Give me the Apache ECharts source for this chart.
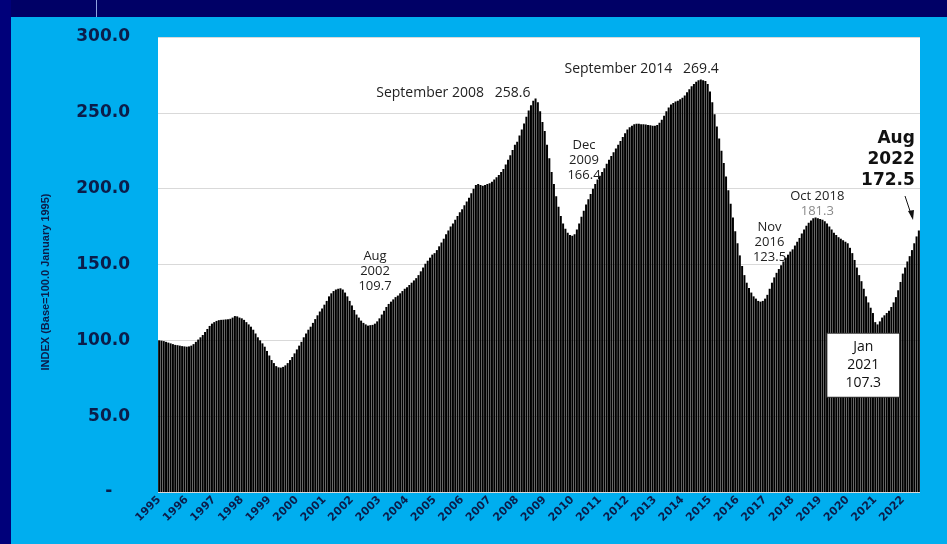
<!DOCTYPE html>
<html>
<head>
<meta charset="utf-8">
<script src="https://cdn.jsdelivr.net/npm/echarts@6/dist/echarts.min.js"></script>
<style>
  html, body { margin: 0; padding: 0; background: #00aeef; }
  #chart { width: 947px; height: 544px; }
</style>
</head>
<body>
<div id="chart"></div>
<script>
// monthly index, Jan 1995 .. Aug 2022 (base 100.0 = January 1995)
const years = [1995, 1996, 1997, 1998, 1999, 2000, 2001, 2002, 2003, 2004, 2005, 2006, 2007,
  2008, 2009, 2010, 2011, 2012, 2013, 2014, 2015, 2016, 2017, 2018, 2019, 2020, 2021, 2022];
const monthNames = ["Jan", "Feb", "Mar", "Apr", "May", "Jun", "Jul", "Aug", "Sep", "Oct", "Nov", "Dec"];

const indexValues = [
  100.0, 99.8, 99.5, 99.0, 98.5, 98.0, 97.5, 97.0, 96.8, 96.5, 96.2, 96.0,          // 1995
  95.8, 96.0, 96.5, 97.5, 99.0, 100.5, 102.0, 103.5, 105.5, 107.5, 109.5, 111.0,    // 1996
  112.0, 112.8, 113.3, 113.5, 113.6, 113.8, 113.9, 114.2, 115.0, 116.0, 115.8, 115.0, // 1997
  114.5, 113.5, 112.0, 110.5, 109.0, 107.0, 104.5, 102.0, 100.0, 98.0, 95.8, 93.0,  // 1998
  90.0, 87.0, 85.0, 83.0, 82.2, 82.0, 82.5, 83.5, 85.0, 87.0, 89.0, 91.4,           // 1999
  94.0, 96.5, 99.0, 102.0, 104.5, 107.0, 109.0, 111.5, 114.0, 116.5, 119.0, 121.0,  // 2000
  123.5, 126.0, 129.0, 131.0, 132.5, 133.5, 134.0, 134.3, 133.5, 131.5, 129.0, 126.0, // 2001
  123.0, 120.0, 117.0, 115.0, 113.0, 111.5, 110.5, 109.7, 110.0, 110.2, 111.0, 112.5, // 2002
  114.5, 117.0, 119.5, 122.0, 124.0, 125.5, 127.0, 128.5, 129.5, 131.0, 132.5, 134.0, // 2003
  135.0, 136.5, 138.0, 139.5, 141.0, 143.0, 145.5, 148.0, 150.5, 152.5, 154.5, 156.5, // 2004
  157.5, 159.5, 162.0, 164.5, 167.0, 170.0, 172.5, 175.0, 177.0, 179.5, 182.0, 184.5, // 2005
  186.5, 189.0, 191.5, 194.0, 197.0, 200.0, 202.5, 203.0, 202.5, 202.0, 202.4, 203.0, // 2006
  203.5, 204.5, 206.0, 207.5, 209.0, 211.0, 213.0, 216.0, 219.0, 222.0, 225.5, 229.0, // 2007
  231.0, 235.0, 239.0, 243.0, 247.5, 251.5, 255.0, 258.0, 259.5, 257.0, 251.0, 244.0, // 2008
  238.0, 229.0, 220.0, 211.0, 203.0, 195.0, 188.0, 182.0, 177.0, 173.5, 171.0, 169.5, // 2009
  169.0, 170.0, 173.0, 177.0, 181.5, 185.5, 189.5, 193.0, 196.5, 200.0, 203.0, 206.0, // 2010
  208.5, 211.0, 213.5, 216.5, 219.0, 221.5, 224.0, 226.5, 229.0, 231.5, 234.0, 236.5, // 2011
  239.0, 240.5, 241.5, 242.5, 242.8, 242.8, 242.5, 242.5, 242.3, 242.0, 241.8, 241.5, // 2012
  241.5, 242.0, 243.5, 245.5, 248.0, 251.0, 253.5, 255.5, 256.5, 257.5, 258.0, 259.0, // 2013
  260.0, 261.5, 263.5, 265.5, 267.5, 269.0, 270.5, 271.5, 272.0, 271.5, 271.0, 269.0, // 2014
  264.0, 257.0, 249.0, 241.0, 233.0, 225.0, 217.0, 208.0, 199.0, 190.0, 181.0, 172.0, // 2015
  164.0, 156.0, 149.0, 143.0, 138.0, 134.5, 131.5, 129.0, 127.5, 126.0, 125.5, 126.0, // 2016
  127.5, 130.0, 134.0, 138.0, 141.5, 144.5, 147.0, 149.5, 152.0, 154.5, 156.5, 158.5, // 2017
  160.0, 162.5, 165.0, 167.5, 170.5, 173.0, 175.5, 177.5, 179.0, 180.5, 181.0, 180.5, // 2018
  180.0, 179.5, 178.5, 177.0, 175.0, 173.0, 171.0, 169.5, 168.0, 167.0, 166.0, 165.0, // 2019
  164.0, 161.0, 157.5, 153.0, 148.0, 143.0, 139.0, 134.0, 129.0, 125.0, 121.5, 118.0, // 2020
  112.0, 110.5, 112.5, 115.0, 116.5, 118.0, 119.5, 122.0, 125.0, 128.5, 133.0, 138.5, // 2021
  144.0, 148.0, 152.0, 155.5, 159.5, 164.0, 168.5, 172.5                              // 2022
];

const months = [];
years.forEach(y => monthNames.forEach(m => months.push(m + " " + y)));
months.length = indexValues.length;

const yTicks = [0, 50, 100, 150, 200, 250, 300];

const navy = "#0b1d4a";
const textFont = "'Open Sans', sans-serif";

function valueOf(month) {
  return indexValues[months.indexOf(month)];
}

// callouts: month, text, label placement relative to that month's bar top
const notes = [
  { month: "Sep 2008", text: "September 2008   258.6", pos: [-5, -5], align: "right", size: 14 },
  { month: "Sep 2014", text: "September 2014   269.4", pos: [18, -10], align: "right", size: 14 },
  { month: "Dec 2009", text: "Dec\n2009\n166.4", pos: [14, -75], align: "center", size: 13 },
  { month: "Aug 2002", text: "Aug\n2002\n109.7", pos: [7, -54], align: "center", size: 13 },
  { month: "Nov 2016", text: "Nov\n2016\n123.5", pos: [9, -59], align: "center", size: 13 }
];

const chart = echarts.init(document.getElementById("chart"));

const markData = notes.map(n => ({
  coord: [n.month, valueOf(n.month)],
  label: {
    show: true,
    position: n.pos,
    align: n.align,
    verticalAlign: "middle",
    formatter: n.text,
    color: "#222",
    fontFamily: textFont,
    fontSize: n.size,
    lineHeight: 15
  }
}));

markData.push({
  coord: ["Oct 2018", valueOf("Oct 2018")],
  label: {
    show: true,
    position: [4, -14],
    align: "center",
    verticalAlign: "middle",
    formatter: "{a|Oct 2018}\n{b|181.3}",
    rich: {
      a: { color: "#222", fontFamily: textFont, fontSize: 13, lineHeight: 15 },
      b: { color: "#8a8a8a", fontFamily: textFont, fontSize: 13, lineHeight: 15 }
    }
  }
});

markData.push({
  coord: ["Aug 2022", valueOf("Aug 2022")],
  label: {
    show: true,
    position: [-4, -71],
    align: "right",
    verticalAlign: "middle",
    formatter: "Aug\n2022\n172.5",
    color: "#111",
    fontFamily: "'DejaVu Sans', sans-serif",
    fontWeight: "bold",
    fontSize: 17,
    lineHeight: 21
  }
});

markData.push({
  coord: ["Jan 2021", valueOf("Jan 2021")],
  label: {
    show: true,
    position: [-12, 43],
    align: "center",
    verticalAlign: "middle",
    formatter: "Jan\n2021\n107.3",
    color: "#111",
    fontFamily: textFont,
    fontSize: 14,
    lineHeight: 18,
    backgroundColor: "#fff",
    borderColor: "#333",
    borderWidth: 1,
    padding: [5, 18, 4, 18]
  }
});

const option = {
  backgroundColor: "#00aeef",
  animation: false,
  grid: {
    left: 158,
    right: 27,
    top: 37,
    bottom: 52,
    show: true,
    backgroundColor: "#fff",
    borderWidth: 0
  },
  graphic: [
    { type: "rect", left: 0, top: 0, shape: { width: 947, height: 17 }, style: { fill: "#000066" } },
    { type: "rect", left: 0, top: 0, shape: { width: 11, height: 544 }, style: { fill: "#00007a" } },
    { type: "rect", left: 96, top: 0, shape: { width: 1, height: 17 }, style: { fill: "#8fa0e0" } },
    {
      type: "text",
      x: 46,
      y: 282,
      rotation: Math.PI / 2,
      style: {
        text: "INDEX (Base=100.0 January 1995)",
        align: "center",
        verticalAlign: "middle",
        fill: navy,
        font: "bold 11px 'Liberation Sans Narrow', 'Liberation Sans', sans-serif"
      }
    },
    {
      type: "line",
      shape: { x1: 905, y1: 196, x2: 912, y2: 217 },
      style: { stroke: "#111", lineWidth: 1 }
    },
    {
      type: "polygon",
      shape: { points: [[913, 220], [908, 211], [914, 210]] },
      style: { fill: "#111" }
    }
  ],
  xAxis: {
    type: "category",
    data: months,
    axisLine: { show: false },
    axisTick: { show: false },
    axisLabel: {
      interval: (i) => i % 12 === 0,
      rotate: 45,
      margin: 6,
      color: navy,
      fontFamily: "'DejaVu Sans', sans-serif",
      fontWeight: "bold",
      fontSize: 11,
      formatter: (v) => v.split(" ")[1]
    }
  },
  yAxis: {
    type: "value",
    min: yTicks[0],
    max: yTicks[yTicks.length - 1],
    interval: 50,
    axisLine: { show: false },
    axisTick: { show: false },
    splitLine: { lineStyle: { color: "#d9d9d9", width: 1 } },
    axisLabel: {
      margin: 28,
      color: navy,
      fontFamily: "'DejaVu Sans', sans-serif",
      fontWeight: "bold",
      fontSize: 17,
      formatter: (v) => (v === 0 ? "-   " : v.toFixed(1))
    }
  },
  series: [
    {
      type: "bar",
      data: indexValues,
      barWidth: 2,
      itemStyle: { color: "#000" },
      markPoint: {
        symbol: "circle",
        symbolSize: 0,
        silent: true,
        data: markData
      }
    }
  ]
};

chart.setOption(option);
</script>
</body>
</html>
